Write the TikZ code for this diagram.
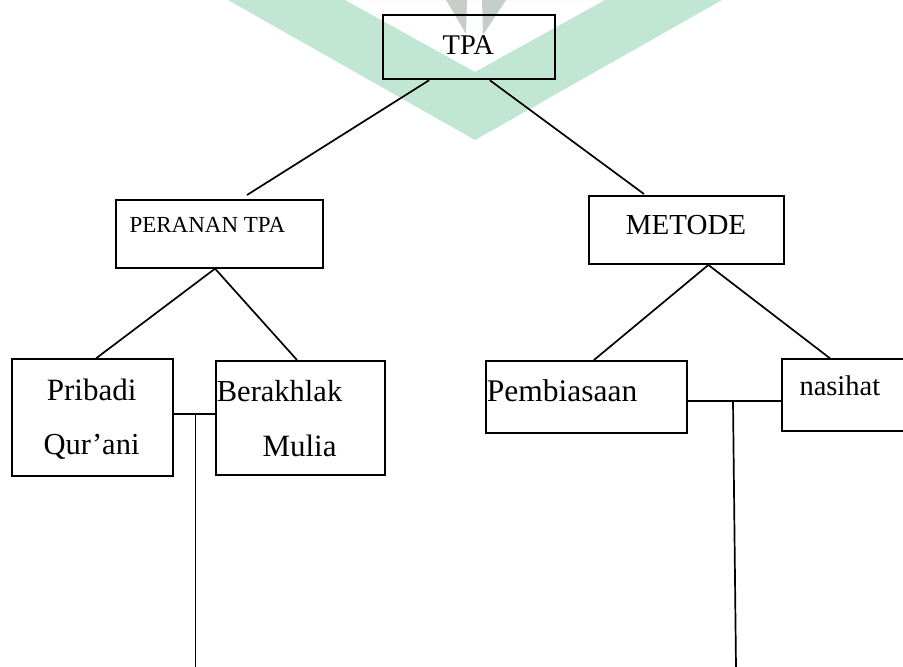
\documentclass[tikz,border=0pt]{standalone}
\usepackage{fontspec}
\setmainfont{Liberation Serif}
\definecolor{wmgreen}{RGB}{193,230,212}
\definecolor{wmgrey}{RGB}{198,206,202}
\tikzset{
  box/.style={draw, line width=1.9pt, inner sep=0pt, rectangle},
  conn/.style={line width=1.7pt},
  txt/.style={inner sep=0pt, anchor=base west},
}
\newcommand{\fs}[1]{\fontsize{#1}{#1}\selectfont}
\begin{document}
\begin{tikzpicture}[x=1pt,y=-1pt]
\useasboundingbox (0,0) rectangle (903,667);
\clip (0,0) rectangle (903,667);
% watermark
\fill[wmgreen, even odd rule] (228,0) -- (722,0) -- (475,140) -- cycle
                              (345,0) -- (605,0) -- (475,72) -- cycle;
\fill[wmgrey] (446,0) -- (467,0) -- (466,34) -- cycle;
\fill[wmgrey] (482,0) -- (506,0) -- (483,35) -- cycle;

% boxes
\node[box, minimum width=171.7pt, minimum height=64pt] (tpa) at (469.2,47.3) {};
\node[box, minimum width=207pt, minimum height=67.7pt] (per) at (219.5,233.85) {};
\node[box, minimum width=195pt, minimum height=68pt] (met) at (686.5,230) {};
\node[box, minimum width=161pt, minimum height=116.4pt] (pri) at (92.2,417.5) {};
\node[box, minimum width=169pt, minimum height=114pt] (ber) at (300.5,418) {};
\node[box, minimum width=201pt, minimum height=71.7pt] (pem) at (586.3,396.9) {};
\node[box, minimum width=137.7pt, minimum height=71.7pt] (nas) at (851.2,395.2) {};

% texts
\node[txt, font=\fs{28.5}] (tTPA) at (442.5,54.3) {TPA};
\node[txt, font=\fs{23}] (tPer) at (129.3,232.8) {PERANAN TPA};
\node[txt, font=\fs{29}] (tMet) at (625.7,234.3) {METODE};
\node[txt, font=\fs{31}] (tPri1) at (46.7,400.7) {Pribadi};
\node[txt, font=\fs{30.5}] (tPri2) at (43.3,454) {Qur’ani};
\node[txt, font=\fs{30.5}] (tBer1) at (216.7,401.7) {Berakhlak};
\node[txt, font=\fs{31}] (tBer2) at (262.3,456) {Mulia};
\node[txt, font=\fs{31.5}] (tPem) at (486.7,401.7) {Pembiasaan};
\node[txt, font=\fs{28.5}] (tNas) at (799.3,395.7) {nasihat};

% free ends
\coordinate (e1) at (247,195);
\coordinate (e2) at (644,194);
\coordinate (j1) at (195.6,414);
\coordinate (b1) at (195.6,667);
\coordinate (j2) at (733,401);
\coordinate (b2) at (736,667);

% connectors
\draw[conn] ([xshift=46.7pt]tpa.south west) -- (e1);
\draw[conn] ([xshift=107.4pt]tpa.south west) -- (e2);
\draw[conn] ([xshift=100pt]per.south west) -- ([xshift=85.3pt]pri.north west);
\draw[conn] ([xshift=100pt]per.south west) -- ([xshift=82pt]ber.north west);
\draw[conn] ([xshift=120.3pt]met.south west) -- ([xshift=109pt]pem.north west);
\draw[conn] ([xshift=120.3pt]met.south west) -- ([xshift=48.7pt]nas.north west);
\draw[conn] (pri.east |- j1) -- (ber.west |- j1);
\draw[conn] (j1) -- (b1);
\draw[conn] (pem.east |- j2) -- (nas.west |- j2);
\draw[conn] (j2) -- (b2);
\end{tikzpicture}
\end{document}
